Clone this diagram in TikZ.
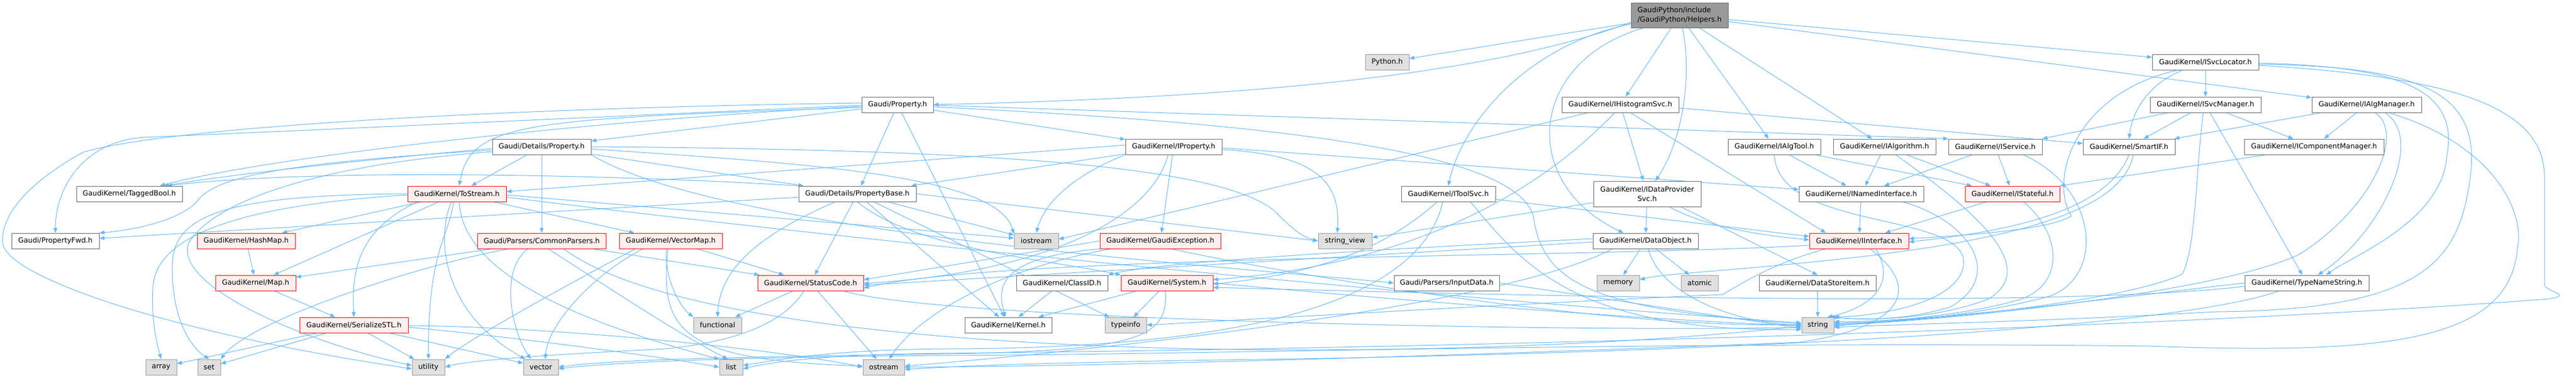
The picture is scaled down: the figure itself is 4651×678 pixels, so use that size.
\documentclass[tikz,border=0pt]{standalone}
\usepackage{fontspec}
\setmainfont{DejaVu Sans}
\usetikzlibrary{arrows.meta}
\pgfdeclarelayer{bg}
\pgfdeclarelayer{edgelayer}
\pgfsetlayers{bg,edgelayer,main}
\definecolor{edgec}{HTML}{63B8FF}
\definecolor{nborder}{HTML}{666666}
\definecolor{sysfill}{HTML}{E0E0E0}
\definecolor{sysborder}{HTML}{999999}
\definecolor{redfill}{HTML}{FFF0F0}
\definecolor{redborder}{HTML}{FF0000}
\definecolor{topfill}{HTML}{999999}
\begin{document}
\begin{tikzpicture}[x=1pt,y=-1pt,
  box/.style={rectangle, draw, line width=1pt, minimum height=28pt, inner sep=0pt, font=\fontsize{12.8}{17}\selectfont, text=black},
  nn/.style={box, draw=nborder, fill=white},
  nr/.style={box, draw=redborder, fill=redfill},
  ns/.style={box, draw=sysborder, fill=sysfill},
  nt/.style={box, draw=nborder, fill=topfill, minimum height=45pt, align=left},
  w/.style={minimum width=#1pt},
  e/.style={draw=edgec, line width=1pt, -{Triangle[length=9pt,width=7pt]}}
]
\useasboundingbox (0,0) rectangle (4651,678);
\begin{pgfonlayer}{bg}
\fill[white] (0,0) rectangle (4651,678);
\end{pgfonlayer}

% ---------- nodes ----------
\node[nt,w=175] (H) at (3032.5,27.5) {GaudiPython/include\\/GaudiPython/Helpers.h};
\node[ns,w=79] (Py) at (2504.5,112) {Python.h};
\node[nn,w=192] (SvcLoc) at (3982,112) {GaudiKernel/ISvcLocator.h};
\node[nn,w=129] (Prop) at (1620.5,189) {Gaudi/Property.h};
\node[nn,w=211] (HistSvc) at (2925.5,189) {GaudiKernel/IHistogramSvc.h};
\node[nn,w=200] (SvcMgr) at (3982,189) {GaudiKernel/ISvcManager.h};
\node[nn,w=198] (AlgMgr) at (4273,189) {GaudiKernel/IAlgManager.h};
\node[nn,w=178] (DetProp) at (978,265) {Gaudi/Details/Property.h};
\node[nn,w=174] (IProp) at (2119,265) {GaudiKernel/IProperty.h};
\node[nn,w=167] (AlgTool) at (3203.5,265) {GaudiKernel/IAlgTool.h};
\node[nn,w=185] (Alg) at (3402.5,265) {GaudiKernel/IAlgorithm.h};
\node[nn,w=169] (Svc) at (3602.5,265) {GaudiKernel/IService.h};
\node[nn,w=166] (Smart) at (3844,265) {GaudiKernel/SmartIF.h};
\node[nn,w=252] (CompMgr) at (4178,265) {GaudiKernel/IComponentManager.h};
\node[nn,w=191] (Tagged) at (233.5,350) {GaudiKernel/TaggedBool.h};
\node[nr,w=178] (ToStr) at (825,350) {GaudiKernel/ToStream.h};
\node[nn,w=212] (PBase) at (1548,350) {Gaudi/Details/PropertyBase.h};
\node[nn,w=170] (ToolSvc) at (2615,350) {GaudiKernel/IToolSvc.h};
\node[nn,w=194,minimum height=46pt,align=center] (DPS) at (2974,350) {GaudiKernel/IDataProvider\\Svc.h};
\node[nn,w=225] (NamedI) at (3360.5,350) {GaudiKernel/INamedInterface.h};
\node[nr,w=171] (Stateful) at (3633.5,350) {GaudiKernel/IStateful.h};
\node[nn,w=158] (PFwd) at (100,435) {Gaudi/PropertyFwd.h};
\node[nr,w=177] (HashMap) at (444.5,435) {GaudiKernel/HashMap.h};
\node[nr,w=232] (CParsers) at (978,435) {Gaudi/Parsers/CommonParsers.h};
\node[nr,w=186] (VMap) at (1211,435) {GaudiKernel/VectorMap.h};
\node[ns,w=80] (iostream) at (1871,435) {iostream};
\node[nr,w=218] (GExc) at (2095,435) {GaudiKernel/GaudiException.h};
\node[ns,w=97] (strview) at (2428.5,435) {string\_view};
\node[nn,w=190] (DObj) at (2971,435) {GaudiKernel/DataObject.h};
\node[nr,w=179] (IIface) at (3356.5,435) {GaudiKernel/IInterface.h};
\node[nr,w=145] (Map) at (461.5,511) {GaudiKernel/Map.h};
\node[nr,w=191] (SCode) at (1463.5,511) {GaudiKernel/StatusCode.h};
\node[nn,w=165] (ClassID) at (1917.5,511) {GaudiKernel/ClassID.h};
\node[nr,w=166] (System) at (2107,511) {GaudiKernel/System.h};
\node[nn,w=190] (InputD) at (2612,511) {Gaudi/Parsers/InputData.h};
\node[ns,w=77] (memory) at (2921.5,511) {memory};
\node[ns,w=67] (atomic) at (3068.5,511) {atomic};
\node[nn,w=211] (DSI) at (3281.5,511) {GaudiKernel/DataStoreItem.h};
\node[nn,w=224] (TNS) at (4165,511) {GaudiKernel/TypeNameString.h};
\node[nr,w=196] (SerSTL) at (639,587) {GaudiKernel/SerializeSTL.h};
\node[ns,w=87] (functional) at (1295.5,587) {functional};
\node[nn,w=157] (Kernel) at (1820.5,587) {GaudiKernel/Kernel.h};
\node[ns,w=75] (typeinfo) at (2032.5,587) {typeinfo};
\node[ns,w=58] (nstring) at (3282,587) {string};
\node[ns,w=56] (array) at (291,663) {array};
\node[ns,w=41] (nset) at (377.5,663) {set};
\node[ns,w=59] (utility) at (773.5,663) {utility};
\node[ns,w=63] (vector) at (976.5,663) {vector};
\node[ns,w=42] (nlist) at (1320,663) {list};
\node[ns,w=75] (ostream) at (1595.5,663) {ostream};

% ---------- edges ----------
\begin{pgfonlayer}{edgelayer}
% Helpers
\draw[e] (H) -- (Py);
\draw[e] ([yshift=-13pt]H.west) .. controls (2700,130) and (2300,175) .. (Prop.east);
\draw[e] ([yshift=-16pt]H.west) .. controls (2760,80) and (2640,220) .. (ToolSvc.north);
\draw[e] ([xshift=-65pt]H.south) .. controls (2760,110) and (2740,330) .. ([xshift=-40pt]DObj.north);
\draw[e] (H) -- (HistSvc);
\draw[e] ([xshift=5pt]H.south) .. controls (3055,130) and (3040,250) .. ([xshift=15pt]DPS.north);
\draw[e] (H) -- (AlgTool);
\draw[e] (H) -- (Alg);
\draw[e] (H) -- (SvcLoc);
\draw[e] (H) -- (AlgMgr);
% Gaudi/Property.h
\draw[e] (Prop) -- (DetProp);
\draw[e] ([yshift=-5pt]Prop.west) .. controls (950,215) and (850,220) .. ([xshift=4pt]ToStr.north);
\draw[e] ([yshift=-3pt]Prop.west) .. controls (1100,215) and (500,280) .. ([xshift=55pt]Tagged.north);
\draw[e] ([yshift=-1pt]Prop.west) .. controls (1000,215) and (450,240) .. (260,248) .. controls (150,255) and (100,340) .. (PFwd.north);
\draw[e] ([yshift=3pt]Prop.west) .. controls (900,195) and (300,230) .. (150,275) .. controls (50,330) and (0,390) .. (5,440) .. controls (15,500) and (300,600) .. ([yshift=-3pt]utility.west);
\draw[e] (Prop) -- (PBase);
\draw[e] (Prop) -- (Kernel);
\draw[e] (Prop) -- (IProp);
\draw[e] ([yshift=-1pt]Prop.east) -- (Svc.north west);
\draw[e] ([yshift=-4pt]Prop.east) .. controls (2350,225) and (2760,280) .. (2770,400) .. controls (2790,520) and (2900,560) .. ([yshift=2pt]nstring.west);
% Details/Property.h
\draw[e] (DetProp) -- (ToStr);
\draw[e] (DetProp) -- (CParsers);
\draw[e] (DetProp) -- (PBase);
\draw[e] ([yshift=-3pt]DetProp.west) .. controls (700,285) and (450,310) .. ([xshift=62pt]Tagged.north);
\draw[e] ([yshift=-6pt]DetProp.west) .. controls (500,295) and (390,320) .. (357,362) .. controls (330,395) and (250,415) .. (PFwd.north east);
\draw[e] ([yshift=-9pt]DetProp.west) .. controls (550,300) and (380,370) .. (340,440) .. controls (315,520) and (560,620) .. ([yshift=3pt]utility.west);
\draw[e] (DetProp.east) .. controls (1800,270) and (2200,300) .. (2300,380) .. controls (2330,410) and (2350,428) .. (strview.west);
\draw[e] ([yshift=-4pt]DetProp.east) .. controls (1450,295) and (1800,315) .. ([yshift=-2pt]iostream.north west);
\draw[e] (DetProp.south east) .. controls (1300,420) and (2200,480) .. (InputD.west);
% ToStream.h
\draw[e] ([yshift=-2pt]ToStr.west) .. controls (450,370) and (280,420) .. (276,520) .. controls (273,580) and (283,620) .. (array.north);
\draw[e] (ToStr.west) .. controls (400,352) and (312,390) .. (311,480) .. controls (310,560) and (335,620) .. (nset.north);
\draw[e] (ToStr) -- (HashMap);
\draw[e] (ToStr) -- (Map);
\draw[e] ([xshift=-72pt]ToStr.south) .. controls (660,410) and (633,470) .. (SerSTL.north);
\draw[e] (ToStr) -- (VMap);
\draw[e] ([xshift=-10pt]ToStr.south) .. controls (790,420) and (790,560) .. ([xshift=-28pt]vector.north);
\draw[e] ([xshift=-6pt]ToStr.south) .. controls (810,430) and (773,450) .. (utility.north);
\draw[e] ([xshift=4pt]ToStr.south) .. controls (835,480) and (1000,570) .. (nlist.north west);
\draw[e] ([yshift=-2pt]ToStr.east) -- ([yshift=5pt]iostream.west);
\draw[e] ([yshift=-6pt]ToStr.east) .. controls (1500,430) and (2600,540) .. ([yshift=4pt]nstring.west);
% HashMap, Map, SerializeSTL
\draw[e] (HashMap) -- (Map);
\draw[e] (Map) -- (SerSTL);
\draw[e] (SerSTL) -- (array);
\draw[e] (SerSTL) -- (nset);
\draw[e] (SerSTL) -- (utility);
\draw[e] (SerSTL) -- (vector);
\draw[e] ([yshift=-4pt]SerSTL.east) .. controls (900,605) and (1200,645) .. (nlist.west);
\draw[e] ([yshift=-1pt]SerSTL.east) .. controls (1000,590) and (1400,630) .. (ostream.west);
% CommonParsers.h
\draw[e] (CParsers) -- (SCode);
\draw[e] ([xshift=-25pt]CParsers.south) .. controls (900,490) and (925,600) .. ([xshift=-18pt]vector.north);
\draw[e] ([xshift=12pt]CParsers.south) .. controls (1100,520) and (1220,600) .. ([xshift=-6pt]nlist.north);
\draw[e] ([xshift=-60pt]CParsers.south) .. controls (750,480) and (450,580) .. (nset.north east);
\draw[e] ([xshift=-90pt]CParsers.south) -- ([yshift=-4pt]Map.north east);
\draw[e] ([xshift=40pt]CParsers.south) .. controls (1300,660) and (2600,660) .. ([yshift=-2pt]nstring.west);
% VectorMap.h
\draw[e] (VMap) -- (SCode);
\draw[e] ([xshift=-8pt]VMap.south) .. controls (1200,510) and (1230,555) .. (functional.north west);
\draw[e] ([xshift=-50pt]VMap.south) .. controls (1080,490) and (990,580) .. ([xshift=8pt]vector.north);
\draw[e] ([xshift=-64pt]VMap.south) .. controls (1050,500) and (850,610) .. (utility.north east);
\draw[e] ([xshift=-5pt]VMap.south) .. controls (1190,600) and (1230,650) .. ([yshift=2pt]ostream.west);
% StatusCode.h
\draw[e] (SCode) -- (functional);
\draw[e] (SCode) -- (ostream);
\draw[e] ([xshift=-12pt]SCode.south) .. controls (1420,575) and (1350,615) .. (1200,630) .. controls (1000,640) and (850,650) .. (utility.east);
\draw[e] ([xshift=60pt]SCode.south) .. controls (1700,580) and (2900,600) .. ([yshift=-4pt]nstring.west);
% PropertyBase.h
\draw[e] (PBase) -- (PFwd);
\draw[e] (PBase.north west) .. controls (1200,320) and (600,300) .. ([xshift=68pt]Tagged.north);
\draw[e] ([xshift=-40pt]PBase.south) .. controls (1380,420) and (1300,480) .. (functional.north);
\draw[e] (PBase) -- (SCode);
\draw[e] (PBase) -- (iostream);
\draw[e] (PBase) -- (Kernel);
\draw[e] (PBase) -- (typeinfo);
\draw[e] (PBase.south) .. controls (1650,450) and (1900,470) .. (System.north west);
\draw[e] (PBase.east) -- (strview.west);
% IProperty.h
\draw[e] (IProp) -- (PBase);
\draw[e] (IProp.south west) .. controls (1930,320) and (1885,370) .. (iostream.north);
\draw[e] (IProp) -- (GExc);
\draw[e] ([xshift=-10pt]IProp.south) .. controls (2080,390) and (1900,490) .. ([yshift=-1pt]SCode.east);
\draw[e] ([yshift=3pt]IProp.west) -- ([yshift=4pt]ToStr.east);
\draw[e] ([yshift=-2pt]IProp.east) -- ([yshift=8pt]NamedI.west);
\draw[e] ([yshift=-5pt]IProp.east) .. controls (2380,280) and (2420,330) .. ([xshift=-14pt]strview.north);
% IHistogramSvc.h
\draw[e] (HistSvc) -- (DPS);
\draw[e] ([xshift=-58pt]HistSvc.south) -- ([yshift=3pt]iostream.east);
\draw[e] ([xshift=-10pt]HistSvc.south) .. controls (2850,270) and (2650,470) .. ([yshift=6pt]System.east);
\draw[e] ([yshift=-6pt]HistSvc.east) -- ([yshift=6pt]Smart.west);
\draw[e] ([xshift=18pt]HistSvc.south) -- ([xshift=-60pt]IIface.north);
% IDataProviderSvc.h
\draw[e] (DPS) -- (DObj);
\draw[e] ([yshift=-16pt]DPS.west) -- ([yshift=6pt]strview.east);
\draw[e] ([xshift=61pt]DPS.south) -- (DSI.north);
\draw[e] ([xshift=40pt]DPS.south) .. controls (3080,410) and (3180,425) .. ([yshift=2pt]IIface.west);
% DataObject.h
\draw[e] (DObj) -- (memory);
\draw[e] (DObj) -- (atomic);
\draw[e] ([xshift=5pt]DObj.south) .. controls (3000,540) and (3150,585) .. (nstring.west);
\draw[e] ([yshift=4pt]DObj.west) .. controls (2600,445) and (2100,470) .. (ClassID.north east);
\draw[e] ([yshift=-2pt]DObj.west) -- ([yshift=-4pt]SCode.east);
\draw[e] ([xshift=-60pt]DObj.south) .. controls (2700,560) and (1900,640) .. ([yshift=2pt]ostream.east);
% GaudiException.h
\draw[e] (GExc.west) -- ([yshift=6pt]SCode.east);
\draw[e] (GExc.south west) .. controls (1800,465) and (1800,520) .. ([xshift=-5pt]Kernel.north);
\draw[e] ([xshift=20pt]GExc.south west) .. controls (1780,490) and (1650,580) .. ([xshift=10pt]ostream.north);
\draw[e] ([xshift=20pt]GExc.south) .. controls (2300,490) and (2900,595) .. ([yshift=1pt]nstring.west);
% System.h
\draw[e] (System) -- (Kernel);
\draw[e] (System) -- (typeinfo);
\draw[e] (System.east) .. controls (2500,540) and (3000,580) .. ([yshift=-1pt]nstring.west);
\draw[e] ([xshift=-3pt]System.south) .. controls (2110,615) and (2050,635) .. (1650,640) .. controls (1300,645) and (1100,650) .. (vector.east);
% ClassID.h, InputData.h, DataStoreItem.h
\draw[e] (ClassID) -- (Kernel);
\draw[e] (InputD.east) -- ([yshift=-6pt]nstring.west);
\draw[e] (DSI) -- (nstring);
% IToolSvc.h
\draw[e] ([yshift=-10pt]ToolSvc.east) -- ([yshift=8pt]IIface.west);
\draw[e] ([xshift=-20pt]ToolSvc.south) .. controls (2520,430) and (2420,490) .. ([yshift=-2pt]System.east);
\draw[e] ([xshift=-10pt]ToolSvc.south) .. controls (2560,560) and (2200,630) .. (1700,630) .. controls (1500,632) and (1400,650) .. ([yshift=3pt]nlist.east);
\draw[e] ([xshift=40pt]ToolSvc.south) .. controls (2750,480) and (2850,600) .. ([yshift=-8pt]nstring.west);
% IAlgTool.h
\draw[e] (AlgTool) -- (NamedI);
\draw[e] (AlgTool) -- (Stateful);
\draw[e] (AlgTool.south) .. controls (3210,420) and (3560,380) .. (3545,480) .. controls (3535,545) and (3400,570) .. (nstring.north east);
% IAlgorithm.h
\draw[e] (Alg) -- (NamedI);
\draw[e] (Alg) -- (Stateful);
\draw[e] ([xshift=20pt]Alg.south) .. controls (3550,370) and (3690,480) .. (3590,540) .. controls (3500,575) and (3380,580) .. ([xshift=-4pt]nstring.north east);
% IService.h
\draw[e] (Svc) -- (NamedI);
\draw[e] (Svc) -- (Stateful);
\draw[e] ([xshift=50pt]Svc.south) .. controls (3790,340) and (3800,500) .. (3700,535) .. controls (3550,575) and (3400,582) .. ([yshift=4pt]nstring.east);
% SmartIF.h
\draw[e] (Smart.south) .. controls (3800,390) and (3600,420) .. ([yshift=-2pt]IIface.east);
\draw[e] ([xshift=8pt]Smart.south) .. controls (3830,380) and (3650,440) .. (3200,480) .. controls (3100,490) and (3000,495) .. ([yshift=6pt]memory.east);
% ISvcLocator.h
\draw[e] (SvcLoc) -- (SvcMgr);
\draw[e] ([xshift=-40pt]SvcLoc.south) .. controls (3880,150) and (3850,200) .. (Smart.north);
\draw[e] ([xshift=-50pt]SvcLoc.south) .. controls (3740,170) and (3700,330) .. (3740,390) .. controls (3700,415) and (3550,425) .. ([yshift=4pt]IIface.east);
\draw[e] ([yshift=-2pt]SvcLoc.east) .. controls (4330,120) and (4440,160) .. (4418,280) .. controls (4410,400) and (4250,460) .. ([xshift=35pt]TNS.north);
\draw[e] ([yshift=-4pt]SvcLoc.east) .. controls (4380,120) and (4480,170) .. (4460,320) .. controls (4440,470) and (4380,560) .. (4000,563) .. controls (3700,580) and (3450,585) .. ([yshift=-4pt]nstring.east);
\draw[e] ([yshift=-6pt]SvcLoc.east) .. controls (4450,140) and (4594,200) .. (4594,320) -- (4594,514) .. controls (4596,528) and (4650,532) .. (4600,540) .. controls (3800,600) and (2500,630) .. (1700,638) .. controls (1500,640) and (1400,652) .. ([yshift=-3pt]nlist.east);
% ISvcManager.h
\draw[e] ([xshift=-67pt]SvcMgr.south) -- (Svc.north east);
\draw[e] (SvcMgr) -- (Smart);
\draw[e] (SvcMgr) -- (CompMgr);
\draw[e] (SvcMgr) -- (TNS);
\draw[e] ([xshift=-4pt]SvcMgr.south) .. controls (3965,300) and (3965,450) .. (3940,495) .. controls (3850,540) and (3500,580) .. ([yshift=2pt]nstring.east);
% IAlgManager.h
\draw[e] (AlgMgr) -- (Smart);
\draw[e] (AlgMgr) -- (CompMgr);
\draw[e] ([xshift=33pt]AlgMgr.south) .. controls (4380,250) and (4300,420) .. ([xshift=20pt]TNS.north);
\draw[e] ([xshift=15pt]AlgMgr.south) .. controls (4345,240) and (4280,380) .. (4150,460) .. controls (4000,530) and (3500,580) .. (nstring.east);
\draw[e] ([xshift=40pt]AlgMgr.south) .. controls (4500,260) and (4560,380) .. (4545,450) .. controls (4530,620) and (4300,640) .. (3880,625) .. controls (3000,615) and (2200,640) .. (1700,642) .. controls (1300,645) and (1100,655) .. ([yshift=-3pt]vector.east);
% IComponentManager.h
\draw[e] ([xshift=-86pt]CompMgr.south) -- (Stateful.north east);
% TypeNameString.h
\draw[e] (TNS.west) .. controls (3800,540) and (3500,580) .. ([yshift=6pt]nstring.east);
\draw[e] ([yshift=-6pt]TNS.west) .. controls (3700,560) and (2600,530) .. ([yshift=-8pt]System.east);
\draw[e] ([xshift=-50pt]TNS.south) .. controls (3900,600) and (3000,640) .. (2200,650) .. controls (1900,655) and (1750,660) .. ([yshift=-4pt]ostream.east);
% INamedInterface.h
\draw[e] (NamedI) -- (IIface);
\draw[e] ([xshift=75pt]NamedI.south) .. controls (3560,400) and (3620,500) .. (3520,555) .. controls (3450,575) and (3380,580) .. ([xshift=-8pt]nstring.north east);
% IStateful.h
\draw[e] (Stateful) -- (IIface);
\draw[e] ([xshift=20pt]Stateful.south) .. controls (3720,420) and (3730,510) .. (3650,540) .. controls (3550,570) and (3400,580) .. ([yshift=-2pt]nstring.east);
% IInterface.h
\draw[e] ([xshift=30pt]IIface.south) .. controls (3425,510) and (3380,555) .. ([xshift=-12pt]nstring.north east);
\draw[e] ([yshift=-8pt]IIface.west) .. controls (3000,458) and (2500,460) .. (2100,475) .. controls (1800,486) and (1650,500) .. ([yshift=-9pt]SCode.east);
\draw[e] ([xshift=-60pt]IIface.south) .. controls (3200,475) and (3140,515) .. (3110,532) .. controls (2800,545) and (2200,580) .. (typeinfo.east);
\draw[e] ([xshift=20pt]IIface.south) .. controls (3470,520) and (3440,590) .. (3250,618) .. controls (2700,640) and (2000,662) .. (ostream.east);
\end{pgfonlayer}
\end{tikzpicture}
\end{document}
